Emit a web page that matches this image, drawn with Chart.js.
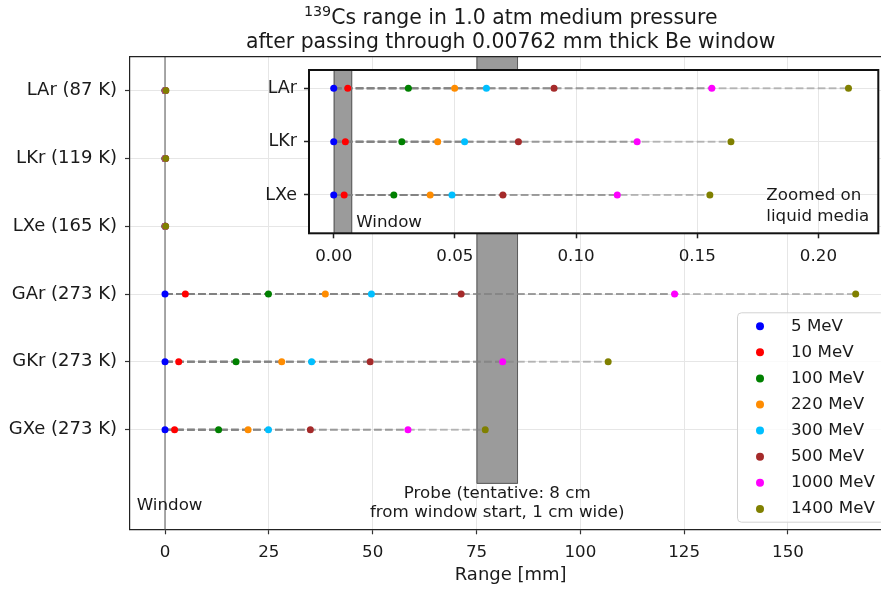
<!DOCTYPE html>
<html><head><meta charset="utf-8">
<script src="https://cdn.jsdelivr.net/npm/chart.js@4.4.0/dist/chart.umd.min.js"></script>
<style>
html,body{margin:0;padding:0;background:#fff;overflow:hidden;width:881px;height:589px;}
#wrap{position:relative;width:881px;height:589px;overflow:hidden;background:#fff;}
.box{position:absolute;}
</style></head><body>
<div id="wrap">
  <div class="box" style="left:0;top:0;width:900px;height:589px"><canvas id="main" width="900" height="589"></canvas></div>
  <div class="box" style="left:250px;top:52px;width:640px;height:223px"><canvas id="inset" width="640" height="223"></canvas></div>
</div>
<script>
// ---------------- data ----------------
const energies = ['5 MeV', '10 MeV', '100 MeV', '220 MeV', '300 MeV', '500 MeV', '1000 MeV', '1400 MeV'];
const energyColors = ['#0000ff', '#ff0000', '#008000', '#ff8c00', '#00bfff', '#a52a2a', '#ff00ff', '#808000'];
const mediaLabels = ['GXe (273 K)', 'GKr (273 K)', 'GAr (273 K)', 'LXe (165 K)', 'LKr (119 K)', 'LAr (87 K)'];
const insetLabels = ['LXe', 'LKr', 'LAr'];
// ranges in mm, one value per energy
const rangeGXe = [0, 2.3, 12.9, 20.0, 24.9, 35.0, 58.5, 77.1];
const rangeGKr = [0, 3.3, 17.1, 28.1, 35.3, 49.4, 81.3, 106.7];
const rangeGAr = [0, 4.9, 24.9, 38.6, 49.7, 71.3, 122.7, 166.3];
const rangeLXe = [0, 0.0043, 0.0248, 0.0398, 0.0488, 0.0698, 0.117, 0.1552];
const rangeLKr = [0, 0.0048, 0.0281, 0.0429, 0.0540, 0.0762, 0.1252, 0.1639];
const rangeLAr = [0, 0.0058, 0.0308, 0.0499, 0.0630, 0.0909, 0.156, 0.2124];
const xTicksMain = [0, 25, 50, 75, 100, 125, 150];
const xTicksInset = [0, 0.05, 0.10, 0.15, 0.20];
const windowThickness = 0.00762; // mm
const probeStart = 75, probeEnd = 85; // mm

// ---------------- helpers ----------------
const FONT = "'DejaVu Sans', sans-serif";
const mainRows = [rangeGXe, rangeGKr, rangeGAr, rangeLXe, rangeLKr, rangeLAr];
const insetRows = [rangeLXe, rangeLKr, rangeLAr];

function buildDatasets(rows, r) {
  const markers = energies.map((e, i) => ({
    label: e,
    data: rows.map((row, y) => ({x: row[i], y: y})),
    backgroundColor: energyColors[i], borderColor: energyColors[i],
    pointRadius: r, pointBorderWidth: 0, showLine: false, order: -i
  }));
  const lines = energies.map((e, i) => ({
    label: '_line' + e,
    data: rows.flatMap((row, y) => [{x: 0, y: y}, {x: row[i], y: y}, {x: null, y: null}]),
    showLine: true, pointRadius: 0, borderColor: 'rgba(128,128,128,0.5)',
    borderWidth: 2, borderDash: [7.7, 3.3], spanGaps: false, fill: false, order: 10
  }));
  return lines.concat(markers);
}

function band(ctx, x0, x1, top, bottom, bottomEdge) {
  ctx.fillStyle = '#9b9b9b';
  ctx.fillRect(x0, top, x1 - x0, bottom - top);
  ctx.strokeStyle = '#5c5c5c';
  ctx.lineWidth = 1;
  ctx.beginPath();
  ctx.moveTo(x0 + 0.5, top); ctx.lineTo(x0 + 0.5, bottom - 0.5);
  if (bottomEdge) ctx.lineTo(x1 - 0.5, bottom - 0.5);
  else ctx.moveTo(x1 - 0.5, bottom);
  ctx.lineTo(x1 - 0.5, top);
  ctx.stroke();
}

// ---------------- main chart ----------------
const mainDecor = {
  id: 'mainDecor',
  beforeDatasetsDraw(chart) {
    const {ctx, chartArea: a, scales: {x, y}} = chart;
    ctx.save();
    const x0 = x.getPixelForValue(probeStart), x1 = x.getPixelForValue(probeEnd);
    const yb = y.getPixelForValue(-0.8);
    band(ctx, x0, x1, a.top, yb, true);
    const xw = x.getPixelForValue(0);
    ctx.strokeStyle = '#8c8c8c'; ctx.lineWidth = 1.5;
    ctx.beginPath(); ctx.moveTo(xw, a.top); ctx.lineTo(xw, a.bottom); ctx.stroke();
    ctx.fillStyle = '#1a1a1a';
    ctx.font = '16.7px ' + FONT;
    ctx.textBaseline = 'middle';
    ctx.textAlign = 'left';
    ctx.fillText('Window', xw - 28.3, a.bottom - 23.8);
    ctx.textAlign = 'center';
    const xc = (x0 + x1) / 2;
    ctx.fillText('Probe (tentative: 8 cm', xc, yb + 10);
    ctx.fillText('from window start, 1 cm wide)', xc, yb + 29);
    ctx.restore();
  },
  afterDraw(chart) {
    const {ctx, chartArea: a} = chart;
    ctx.save();
    // top & right spines
    ctx.strokeStyle = '#222'; ctx.lineWidth = 1.2;
    ctx.beginPath(); ctx.moveTo(a.left, a.top); ctx.lineTo(a.right, a.top); ctx.lineTo(a.right, a.bottom); ctx.stroke();
    // title
    const cx = (a.left + a.right) / 2;
    ctx.fillStyle = '#1a1a1a';
    ctx.textBaseline = 'alphabetic';
    ctx.textAlign = 'left';
    const sup = '139', rest = 'Cs range in 1.0 atm medium pressure';
    ctx.font = '14.3px ' + FONT; const ws = ctx.measureText(sup).width;
    ctx.font = '20.4px ' + FONT; const wr = ctx.measureText(rest).width;
    let sx = cx - (ws + wr) / 2;
    ctx.font = '14.3px ' + FONT; ctx.fillText(sup, sx, 24 - 7.8);
    ctx.font = '20.4px ' + FONT; ctx.fillText(rest, sx + ws, 24);
    ctx.textAlign = 'center';
    ctx.fillText('after passing through 0.00762 mm thick Be window', cx, 48);
    // legend
    const lx = 737, ly = 312.3, lw = 147, lh = 209.4;
    ctx.fillStyle = 'rgba(255,255,255,0.8)';
    ctx.strokeStyle = '#d2d2d2'; ctx.lineWidth = 1;
    ctx.beginPath(); ctx.roundRect(lx + 0.5, ly + 0.5, lw, lh, 4); ctx.fill(); ctx.stroke();
    ctx.font = '16.7px ' + FONT; ctx.textAlign = 'left'; ctx.textBaseline = 'middle';
    energies.forEach((e, i) => {
      const yy = ly + 13.9 + 26.1 * i;
      ctx.fillStyle = energyColors[i];
      ctx.beginPath(); ctx.arc(lx + 23, yy, 4, 0, Math.PI * 2); ctx.fill();
      ctx.fillStyle = '#1a1a1a';
      ctx.fillText(e, lx + 54, yy);
    });
    ctx.restore();
  }
};

new Chart(document.getElementById('main'), {
  type: 'scatter',
  data: {datasets: buildDatasets(mainRows, 3.5)},
  options: {
    responsive: false, animation: false, events: [],
    layout: {autoPadding: false, padding: {left: 0, top: 56.7, right: 8.6, bottom: 0}},
    plugins: {legend: {display: false}, tooltip: {enabled: false}, title: {display: false}},
    scales: {
      x: {
        type: 'linear', min: -8.43, max: 174.9,
        afterBuildTicks: s => { s.ticks = xTicksMain.map(v => ({value: v})); },
        afterFit: s => { s.height = 59.7; },
        ticks: {color: '#1a1a1a', font: {family: FONT, size: 16.7}, padding: 8, maxRotation: 0, callback: v => String(v)},
        grid: {color: '#e6e6e6', lineWidth: 1, tickColor: '#333', tickLength: 5, tickWidth: 1.2},
        border: {display: true, color: '#222', width: 1.2},
        title: {display: true, text: 'Range [mm]', color: '#1a1a1a', font: {family: FONT, size: 18}, padding: {top: 0, bottom: 2.5}}
      },
      y: {
        type: 'linear', min: -1.47, max: 5.5,
        afterBuildTicks: s => { s.ticks = mediaLabels.map((_, i) => ({value: i})); },
        afterFit: s => { s.width = 130; },
        ticks: {color: '#1a1a1a', font: {family: FONT, size: 18}, padding: 8, callback: v => mediaLabels[v]},
        grid: {color: '#e6e6e6', lineWidth: 1, tickColor: '#333', tickLength: 5, tickWidth: 1.2},
        border: {display: true, color: '#222', width: 1.2}
      }
    }
  },
  plugins: [mainDecor]
});

// ---------------- inset chart ----------------
const insetDecor = {
  id: 'insetDecor',
  beforeDraw(chart) {
    const {ctx, chartArea: a} = chart;
    ctx.save(); ctx.fillStyle = '#fff'; ctx.fillRect(a.left, a.top, a.right - a.left, a.bottom - a.top); ctx.restore();
  },
  beforeDatasetsDraw(chart) {
    const {ctx, chartArea: a, scales: {x}} = chart;
    ctx.save();
    band(ctx, x.getPixelForValue(0), x.getPixelForValue(windowThickness), a.top, a.bottom, false);
    ctx.restore();
  },
  afterDraw(chart) {
    const {ctx, chartArea: a, scales: {x}} = chart;
    ctx.save();
    ctx.strokeStyle = '#111'; ctx.lineWidth = 2;
    ctx.strokeRect(a.left, a.top, a.right - a.left, a.bottom - a.top);
    ctx.fillStyle = '#1a1a1a'; ctx.font = '16.7px ' + FONT;
    ctx.textAlign = 'left'; ctx.textBaseline = 'middle';
    ctx.fillText('Window', x.getPixelForValue(windowThickness) + 4, a.bottom - 11);
    ctx.fillText('Zoomed on', a.right - 112, a.bottom - 37.5);
    ctx.fillText('liquid media', a.right - 112, a.bottom - 17);
    ctx.restore();
  }
};

new Chart(document.getElementById('inset'), {
  type: 'scatter',
  data: {datasets: buildDatasets(insetRows, 3.5)},
  options: {
    responsive: false, animation: false, events: [],
    layout: {autoPadding: false, padding: {left: 0, top: 18, right: 11.7, bottom: 0}},
    plugins: {legend: {display: false}, tooltip: {enabled: false}},
    scales: {
      x: {
        type: 'linear', min: -0.0102, max: 0.2247,
        afterBuildTicks: s => { s.ticks = xTicksInset.map(v => ({value: v})); },
        afterFit: s => { s.height = 41.7; },
        ticks: {color: '#1a1a1a', font: {family: FONT, size: 16.7}, padding: 8.5, maxRotation: 0, callback: v => v.toFixed(2)},
        grid: {color: '#e6e6e6', lineWidth: 1, tickColor: '#222', tickLength: 5, tickWidth: 1.5},
        border: {display: false}
      },
      y: {
        type: 'linear', min: -0.718, max: 2.343,
        afterBuildTicks: s => { s.ticks = insetLabels.map((_, i) => ({value: i})); },
        afterFit: s => { s.width = 59; },
        ticks: {color: '#1a1a1a', font: {family: FONT, size: 17.5}, padding: 7, callback: v => insetLabels[v]},
        grid: {color: '#e6e6e6', lineWidth: 1, tickColor: '#222', tickLength: 5, tickWidth: 1.5},
        border: {display: false}
      }
    }
  },
  plugins: [insetDecor]
});
</script>
</body></html>
